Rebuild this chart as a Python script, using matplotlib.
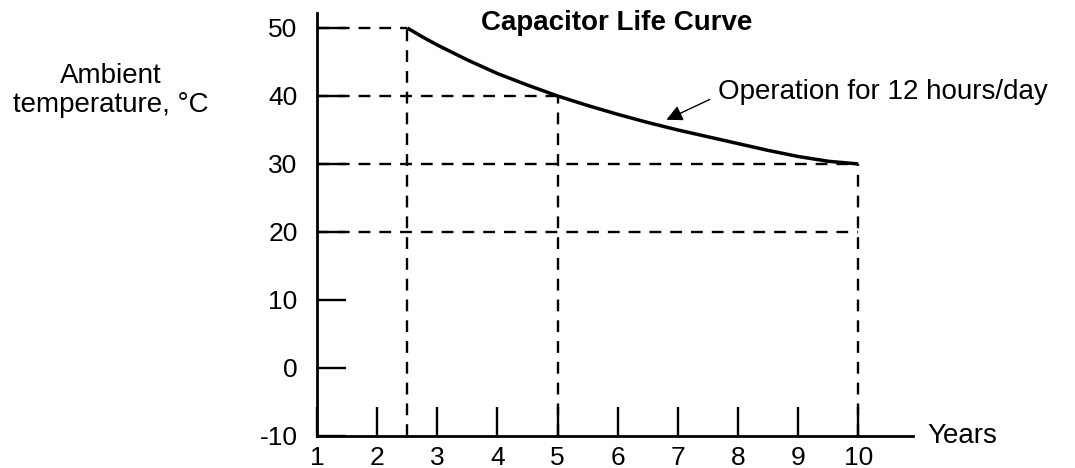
import matplotlib
matplotlib.use("Agg")
import matplotlib.pyplot as plt

plt.rcParams['font.family'] = ['Liberation Sans', 'DejaVu Sans']

# Capacitor life vs. ambient temperature (12 h/day operation)
years = [2.5, 2.75, 3.0, 3.5, 4.0, 4.5, 5.0, 5.5, 6.0, 6.5, 7.0, 7.5, 8.0, 8.5, 9.0, 9.5, 10.0]
temp_c = [50.0, 48.7, 47.5, 45.3, 43.3, 41.6, 40.0, 38.6, 37.3, 36.1, 35.0, 34.0, 33.0, 32.0, 31.1, 30.4, 30.0]

x_ticks = [1, 2, 3, 4, 5, 6, 7, 8, 9, 10]
y_ticks = [-10, 0, 10, 20, 30, 40, 50]

# Reference guides: (year, temperature) points marked with dashed lines
guide_years = [2.5, 5.0, 10.0]
guide_temps = [50, 40, 30]
extra_hline = 20  # spans to 10 years

fig = plt.figure(figsize=(10.75, 4.68), dpi=100)
ax = fig.add_axes([0.2949, 0.0684, 0.8493 - 0.2949, 0.9722 - 0.0684])
ax.set_xlim(1, 10.91)
ax.set_ylim(-10, 52.2)

dash = dict(color='black', lw=1.7, dashes=(5.0, 3.8), zorder=1)
for gx, gy in zip(guide_years, guide_temps):
    ax.plot([x_ticks[0], gx], [gy, gy], **dash)
    ax.plot([gx, gx], [y_ticks[0], gy], **dash)
ax.plot([x_ticks[0], guide_years[-1]], [extra_hline, extra_hline], **dash)

ax.plot(years, temp_c, color='black', lw=2.5, solid_capstyle='butt',
        solid_joinstyle='round', zorder=3)

for side in ('top', 'right'):
    ax.spines[side].set_visible(False)
for side in ('left', 'bottom'):
    ax.spines[side].set_linewidth(2.0)
    ax.spines[side].set_zorder(4)

ax.set_xticks(x_ticks)
ax.set_yticks(y_ticks)
ax.set_xticklabels([str(v) for v in x_ticks])
ax.set_yticklabels([str(v) for v in y_ticks])
ax.tick_params(direction='in', length=21, width=1.7, labelsize=19, pad=8)
ax.tick_params(axis='x', pad=7)
ax.tick_params(axis='y', pad=14)

fig.text(0.574, 0.950, 'Capacitor Life Curve', fontsize=20, fontweight='bold',
         ha='center', va='center')
fig.text(0.103, 0.806, 'Ambient\ntemperature, °C', fontsize=20, ha='center',
         va='center', linespacing=1.15)
fig.text(0.863, 0.068, 'Years', fontsize=20, ha='left', va='center')

ax.annotate('Operation for 12 hours/day', xy=(6.81, 36.5), xytext=(7.66, 40.6),
            textcoords='data', fontsize=20, ha='left', va='center',
            arrowprops=dict(arrowstyle='-|>', color='black', lw=1.0,
                            mutation_scale=24, shrinkA=4, shrinkB=0,
                            relpos=(0.0, 0.35)))

fig.savefig('out.png', dpi=100)
